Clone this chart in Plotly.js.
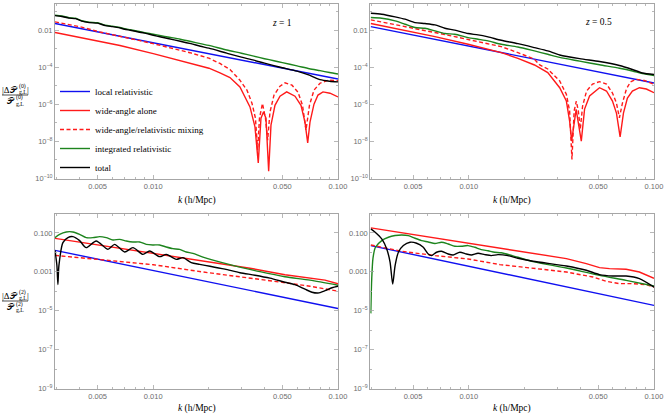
<!DOCTYPE html>
<html>
<head>
<meta charset="utf-8">
<script src="https://cdn.plot.ly/plotly-3.0.1.min.js"></script>
<style>
  body { margin: 0; background: #fff; }
  #chart { width: 664px; height: 417px; }
</style>
</head>
<body>
<div id="chart"></div>
<script>
// ---- data (k in h/Mpc, ratio |dP|/P) ----

// z = 1, monopole
var kTL_blue = [0.00294, 0.1];
var vTL_blue = [0.0230, 2.33e-5];

var kTL_wide = [0.00294, 0.005145, 0.006603, 0.01, 0.01503, 0.02002, 0.02297, 0.02602, 0.02946, 0.03339,
  0.03553, 0.03702, 0.03829, 0.0395, 0.04075, 0.04214, 0.04338, 0.04559, 0.04853, 0.05276,
  0.05851, 0.06305, 0.06626, 0.06855, 0.07053, 0.07413, 0.07793, 0.08294, 0.09052, 0.1];
var vTL_wide = [7.52e-3, 2.55e-3, 1.5e-3, 5.40e-4, 1.88e-4, 8.9e-5, 4.98e-5, 2.81e-5, 8.75e-6, 7.3e-7,
  6.08e-8, 6.97e-10, 1.78e-7, 3.89e-7, 1.78e-7, 2.5e-10, 7.6e-8, 8.9e-7, 2.75e-6, 4.68e-6,
  2.75e-6, 8.9e-7, 1.1e-7, 8.3e-9, 1.1e-7, 1.02e-6, 3.16e-6, 4.68e-6, 3.98e-6, 2.51e-6];

var kTL_mix = [0.00294, 0.00401, 0.005145, 0.006603, 0.008472, 0.01, 0.01231, 0.0158, 0.02, 0.02297,
  0.02602, 0.02946, 0.03216, 0.03422, 0.03574, 0.03673, 0.03758, 0.03901, 0.0405, 0.04162,
  0.04283, 0.04503, 0.04853, 0.05164, 0.05636, 0.06073, 0.06424, 0.06709, 0.07009, 0.07413,
  0.07989, 0.08829, 0.1];
var vTL_mix = [0.0281, 0.01545, 0.0080, 0.00446, 0.00272, 0.00187, 0.001138, 6.11e-4, 3.09e-4, 1.60e-4,
  7.59e-5, 2.01e-5, 5.81e-6, 1.16e-6, 1.79e-7, 3.4e-9, 1.79e-7, 1.11e-6, 1.79e-7, 1.17e-8,
  3.78e-7, 3.12e-6, 9.55e-6, 1.44e-5, 1.08e-5, 4.53e-6, 9.0e-7, 4.04e-8, 9.0e-7, 5.81e-6,
  1.38e-5, 2.01e-5, 1.89e-5];

var kTL = [0.00294, 0.0032, 0.0035, 0.0038, 0.0041, 0.0045, 0.005, 0.0055, 0.006, 0.0065,
  0.007, 0.0075, 0.008, 0.009, 0.01, 0.011, 0.012, 0.014, 0.016, 0.018,
  0.02, 0.025, 0.03, 0.035, 0.04, 0.045, 0.05, 0.06, 0.07, 0.08, 0.09, 0.1];
var vTL_integ = [0.0644, 0.0583, 0.0472, 0.0444, 0.0325, 0.0270, 0.0254, 0.0186, 0.0164, 0.0145,
  0.0120, 0.01064, 0.0094, 0.00733, 0.00608, 0.00505, 0.0043, 0.00327, 0.00246, 0.00187,
  0.00151, 8.55e-4, 5.74e-4, 3.96e-4, 2.90e-4, 2.26e-4, 1.77e-4, 1.19e-4, 8.38e-5, 6.55e-5, 5.22e-5, 4.35e-5];
var vTL_total = [0.0610, 0.0552, 0.0447, 0.0420, 0.0308, 0.0256, 0.0240, 0.0176, 0.0155, 0.0137,
  0.0113, 0.0100, 0.0088, 0.00689, 0.00537, 0.0043, 0.00356, 0.00255, 0.00187, 0.00137,
  0.00107, 5.74e-4, 3.50e-4, 2.41e-4, 1.66e-4, 1.22e-4, 9.48e-5, 6.15e-5, 3.74e-5, 2.14e-5, 1.77e-5, 1.63e-5];

// z = 0.5, monopole
var kTR_blue = [0.002958, 0.1];
var vTR_blue = [0.01567, 1.42e-5];

var kTR_wide = [0.002958, 0.004341, 0.006565, 0.009913, 0.01219, 0.01497, 0.01842, 0.02263, 0.02669, 0.03096,
  0.03364, 0.03504, 0.03592, 0.03798, 0.0405, 0.04219, 0.04489, 0.05079, 0.05539, 0.05967,
  0.0627, 0.06563, 0.06839, 0.07185, 0.07643, 0.08337, 0.09093, 0.1];
var vTR_wide = [0.0228, 0.01038, 0.00453, 0.00175, 0.00106, 6.18e-4, 3.05e-4, 1.33e-4, 5.13e-5, 7.89e-6,
  1.51e-6, 1.25e-7, 1.04e-8, 5.37e-7, 1.04e-8, 5.57e-7, 2.81e-6, 7.89e-6, 5.24e-6, 1.51e-6,
  3.39e-7, 1.77e-8, 3.39e-7, 2.19e-6, 5.24e-6, 7.89e-6, 6.71e-6, 4.24e-6];

var kTR_mix = [0.002958, 0.003535, 0.004341, 0.00534, 0.006565, 0.008061, 0.009913, 0.01219, 0.01497, 0.01842,
  0.02263, 0.02417, 0.02669, 0.03096, 0.03364, 0.03504, 0.03606, 0.03705, 0.03807, 0.03903,
  0.04001, 0.04116, 0.04325, 0.04659, 0.05079, 0.05539, 0.05967, 0.0627, 0.06506, 0.06754,
  0.07097, 0.07457, 0.08002, 0.08867, 0.1];
var vTR_mix = [0.0361, 0.0258, 0.01706, 0.01127, 0.00745, 0.00492, 0.00325, 0.00214, 0.0013, 6.18e-4,
  2.70e-4, 1.33e-4, 8.09e-5, 1.82e-5, 3.48e-6, 4.35e-7, 1.07e-9, 4.35e-7, 1.51e-6, 4.35e-7,
  4.6e-8, 8.1e-7, 5.24e-6, 1.25e-5, 1.67e-5, 1.25e-5, 4.08e-6, 1.17e-6, 1.89e-7, 1.17e-6,
  6.71e-6, 1.60e-5, 2.24e-5, 1.93e-5, 1.21e-5];

var kTR = [0.002958, 0.003389, 0.004001, 0.004529, 0.005125, 0.005799, 0.006565, 0.00743, 0.008409, 0.009913,
  0.01122, 0.0127, 0.01497, 0.01842, 0.02263, 0.02669, 0.03096, 0.03967, 0.05079, 0.06506,
  0.07643, 0.08652, 0.1];
var vTR_integ = [0.0482, 0.0444, 0.0318, 0.0210, 0.01387, 0.01276, 0.00916, 0.00658, 0.00605, 0.00400,
  0.00325, 0.00264, 0.00175, 0.00125, 7.60e-4, 5.02e-4, 3.39e-4, 2.14e-4, 1.36e-4, 8.83e-5,
  6.31e-5, 4.62e-5, 3.61e-5];
var vTR_total = [0.0826, 0.0729, 0.0524, 0.0392, 0.0258, 0.0228, 0.0193, 0.01276, 0.0100, 0.00658,
  0.00557, 0.00435, 0.00287, 0.00189, 0.00115, 7.60e-4, 4.62e-4, 2.92e-4, 2.06e-4, 1.25e-4,
  7.60e-5, 4.92e-5, 4.08e-5];

// z = 1, quadrupole
var kBL_blue = [0.00294, 0.1];
var vBL_blue = [0.0127, 1.31e-5];

var kBL_wide = [0.00294, 0.01, 0.01858, 0.03339, 0.05164, 0.07053, 0.08504, 0.1];
var vBL_wide = [0.0527, 0.00891, 0.00362, 0.00154, 7.13e-4, 4.71e-4, 3.72e-4, 2.45e-4];

var kBL_mix = [0.00294, 0.005145, 0.01, 0.01858, 0.03339, 0.05164, 0.07053, 0.08504, 0.1];
var vBL_mix = [0.00703, 0.00422, 0.00233, 9.82e-4, 4.99e-4, 2.76e-4, 1.82e-4, 1.36e-4, 1.01e-4];

var kBL_integ = [0.00294, 0.003113, 0.003381, 0.003674, 0.003995, 0.004337, 0.004716, 0.005127, 0.005566, 0.00605,
  0.006578, 0.007143, 0.007766, 0.008442, 0.009166, 0.00996, 0.01083, 0.01176, 0.01279, 0.0139,
  0.01509, 0.0164, 0.01858, 0.02602, 0.03782, 0.05164, 0.07053, 0.1];
var vBL_integ = [0.0573, 0.0847, 0.1125, 0.1125, 0.0847, 0.0573, 0.0573, 0.0644, 0.0573, 0.0436,
  0.0468, 0.0387, 0.0344, 0.0344, 0.0259, 0.0241, 0.0241, 0.0190, 0.01555, 0.01432,
  0.01052, 0.00891, 0.00568, 0.00233, 0.00102, 5.62e-4, 3.72e-4, 2.05e-4];

var kBL_total = [0.00294, 0.003011, 0.003048, 0.003086, 0.003244, 0.003453, 0.003674, 0.003995, 0.004337, 0.004913,
  0.005686, 0.00618, 0.007002, 0.007766, 0.008794, 0.009561, 0.01083, 0.01176, 0.01332, 0.01448,
  0.01606, 0.01783, 0.02028, 0.02444, 0.02946, 0.03553, 0.04283, 0.05164, 0.05851, 0.06626,
  0.0723, 0.07793, 0.08504, 0.09279, 0.1];
var vBL_total = [0.0127, 0.00207, 2.25e-4, 0.00207, 0.0317, 0.0573, 0.0644, 0.0401, 0.0175, 0.0387,
  0.01432, 0.0259, 0.01052, 0.0175, 0.00791, 0.01183, 0.00603, 0.00791, 0.00438, 0.00535,
  0.00296, 0.00242, 0.00195, 0.00137, 9.03e-4, 6.71e-4, 4.71e-4, 2.93e-4, 2.18e-4, 1.28e-4,
  8.95e-5, 8.13e-5, 1.07e-4, 1.52e-4, 1.82e-4];

// z = 0.5, quadrupole
var kBR_blue = [0.002958, 0.1];
var vBR_blue = [0.0224, 1.88e-5];

var kBR_wide = [0.002958, 0.01473, 0.02224, 0.03364, 0.04309, 0.05079, 0.05749, 0.07071, 0.08337, 0.1];
var vBR_wide = [0.1811, 0.0157, 0.00869, 0.0048, 0.00265, 0.00165, 0.00147, 0.00135, 9.8e-4, 4.63e-4];

var kBR_mix = [0.002958, 0.004341, 0.006565, 0.009913, 0.01473, 0.02224, 0.03364, 0.04676, 0.05518, 0.06506,
  0.07674, 0.09057, 0.1];
var vBR_mix = [0.0241, 0.0114, 0.00685, 0.00457, 0.00236, 0.00157, 9.8e-4, 5.41e-4, 3.25e-4, 2.47e-4,
  2.47e-4, 2.2e-4, 1.65e-4];

var kBR_integ = [0.002958, 0.00299, 0.003039, 0.003134, 0.003389, 0.003682, 0.004001, 0.004341, 0.004718, 0.005125,
  0.005562, 0.006042, 0.006565, 0.007125, 0.007741, 0.008409, 0.009125, 0.009913, 0.01077, 0.01168,
  0.0127, 0.0138, 0.01497, 0.01842, 0.02224, 0.03364, 0.05079, 0.07071, 0.1];
var vBR_integ = [7.3e-6, 3.66e-4, 0.00498, 0.0183, 0.0405, 0.06, 0.0734, 0.0788, 0.0734, 0.0533,
  0.0405, 0.0344, 0.0284, 0.0332, 0.0271, 0.0207, 0.0207, 0.0224, 0.0183, 0.01396,
  0.01211, 0.01014, 0.00955, 0.0056, 0.00335, 0.00157, 6.62e-4, 3.66e-4, 1.86e-4];

var kBR_total = [0.002958, 0.003123, 0.003389, 0.003606, 0.00376, 0.003883, 0.004001, 0.004167, 0.004434, 0.004818,
  0.005231, 0.005681, 0.006042, 0.006293, 0.006696, 0.007125, 0.007741, 0.008231, 0.008946, 0.009707,
  0.01033, 0.01122, 0.01219, 0.01323, 0.01437, 0.01627, 0.01842, 0.02224, 0.03364, 0.04309,
  0.05079, 0.05989, 0.07071, 0.08337, 0.1];
var vBR_total = [0.1607, 0.1087, 0.0491, 0.015, 0.00309, 2.36e-4, 0.00209, 0.01014, 0.0224, 0.0332,
  0.0294, 0.0183, 0.00828, 0.00685, 0.01014, 0.0114, 0.00828, 0.00736, 0.01014, 0.00828,
  0.00736, 0.00899, 0.00771, 0.00685, 0.00771, 0.00685, 0.00498, 0.00348, 0.00199, 0.0012,
  7.19e-4, 6.09e-4, 6.09e-4, 4.48e-4, 1.65e-4];

var names = ['local relativistic', 'wide-angle alone', 'wide-angle/relativistic mixing',
  'integrated relativistic', 'total'];

var xTickVals = [0.005, 0.01, 0.05, 0.1];
var xTickText = ['0.005', '0.010', '0.050', '0.100'];
var xMinor = [0.003, 0.004, 0.006, 0.007, 0.008, 0.009, 0.02, 0.03, 0.04, 0.06, 0.07, 0.08, 0.09];
var yTopVals = [1e-2, 1e-4, 1e-6, 1e-8, 1e-10];
var yTopText = ['0.01', '10<sup>\u22124</sup>', '10<sup>\u22126</sup>', '10<sup>\u22128</sup>', '10<sup>\u221210</sup>'];
var yTopMinor = [1e-1, 1e-3, 1e-5, 1e-7, 1e-9];
var yBotVals = [1e-1, 1e-3, 1e-5, 1e-7, 1e-9];
var yBotText = ['0.100', '0.001', '10<sup>\u22125</sup>', '10<sup>\u22127</sup>', '10<sup>\u22129</sup>'];
var yBotMinor = [1, 1e-2, 1e-4, 1e-6, 1e-8];

// ---- styling ----
var BLUE = '#1010f0', RED = '#ff1a1a', GREEN = '#1d841d', BLACK = '#000000';
var styles = [
  {color: BLUE, dash: 'solid', shape: 'linear'},
  {color: RED, dash: 'solid', shape: 'linear'},
  {color: RED, dash: '4px,2.5px', shape: 'linear'},
  {color: GREEN, dash: 'solid', shape: 'spline'},
  {color: BLACK, dash: 'solid', shape: 'spline'}
];

function curve(k, v, i, xa, ya, legend) {
  return {
    x: k, y: v, type: 'scatter', mode: 'lines',
    name: names[i], showlegend: legend, legendrank: i,
    xaxis: xa, yaxis: ya,
    line: {color: styles[i].color, dash: styles[i].dash, width: 1.4,
      shape: styles[i].shape, smoothing: 0.7},
    hoverinfo: 'skip'
  };
}

var data = [];
function panel(sets, xa, ya, legend) {
  for (var i = 0; i < sets.length; i++) {
    data.push(curve(sets[i][0], sets[i][1], i, xa, ya, legend));
  }
}
panel([[kTL_blue, vTL_blue], [kTL_wide, vTL_wide], [kTL_mix, vTL_mix], [kTL, vTL_integ], [kTL, vTL_total]], 'x', 'y', true);
panel([[kTR_blue, vTR_blue], [kTR_wide, vTR_wide], [kTR_mix, vTR_mix], [kTR, vTR_integ], [kTR, vTR_total]], 'x2', 'y2', false);
panel([[kBL_blue, vBL_blue], [kBL_wide, vBL_wide], [kBL_mix, vBL_mix], [kBL_integ, vBL_integ], [kBL_total, vBL_total]], 'x3', 'y3', false);
panel([[kBR_blue, vBR_blue], [kBR_wide, vBR_wide], [kBR_mix, vBR_mix], [kBR_integ, vBR_integ], [kBR_total, vBR_total]], 'x4', 'y4', false);

var FRAME = '#a6a6a6';
var tickFont = {family: 'Liberation Sans, Arial, sans-serif', size: 7.5, color: '#6e6e6e'};

function xaxis(dom, anchor) {
  return {
    type: 'log', domain: dom, anchor: anchor, range: [-2.5317, -1],
    tickmode: 'array', tickvals: xTickVals, ticktext: xTickText,
    ticks: 'inside', ticklen: 4, tickcolor: FRAME, tickwidth: 0.8,
    minor: {tickmode: 'array', tickvals: xMinor, ticks: 'inside', ticklen: 2, tickcolor: FRAME},
    showline: true, linecolor: FRAME, linewidth: 1, mirror: 'allticks',
    showgrid: false, zeroline: false, tickfont: tickFont, automargin: false
  };
}
function yaxis(dom, anchor, range, vals, text, minor) {
  return {
    type: 'log', domain: dom, anchor: anchor, range: range,
    tickmode: 'array', tickvals: vals, ticktext: text,
    ticks: 'inside', ticklen: 4, tickcolor: FRAME, tickwidth: 0.8,
    minor: {tickmode: 'array', tickvals: minor, ticks: 'inside', ticklen: 2, tickcolor: FRAME},
    showline: true, linecolor: FRAME, linewidth: 1, mirror: 'allticks',
    showgrid: false, zeroline: false, tickfont: tickFont, automargin: false
  };
}

var W = 664, H = 417;
var xL = [55 / W, 338 / W], xR = [370.3 / W, 654 / W];
var yT = [1 - 178.5 / H, 1 - 3.5 / H], yB = [1 - 388.5 / H, 1 - 213.5 / H];

var serif = 'Liberation Serif, Times New Roman, serif';
function note(text, x, y, size, xanchor, yanchor) {
  return {text: text, x: x / W, y: 1 - y / H, xref: 'paper', yref: 'paper',
    showarrow: false, xanchor: xanchor || 'center', yanchor: yanchor || 'middle',
    borderpad: 0, font: {family: serif, size: size, color: '#000'}};
}

// stacked fraction |ΔP^(l)_g,L| / P^(l)_g,L, bar at pixel row yBar
var SCRIPT_P = '\uD835\uDCAB';
function yTitle(order, yBar) {
  var sup = '(' + order + ')';
  return [
    note('|\u0394' + SCRIPT_P, 1, yBar - 5.5, 9, 'left'),
    note(sup, 17.5, yBar - 8.8, 5.8, 'left'),
    note('g,L', 17.5, yBar - 2.6, 5.8, 'left'),
    note('|', 25.5, yBar - 5.5, 9, 'left'),
    note(SCRIPT_P, 5.5, yBar + 6, 9, 'left'),
    note(sup, 15, yBar + 3, 5.8, 'left'),
    note('g,L', 15, yBar + 9.2, 5.8, 'left')
  ];
}

var annotations = [
  note('<i>z</i> = 1', 282, 23, 9.5),
  note('<i>z</i> = 0.5', 598, 22, 9.5),
  note('<i>k</i> (h/Mpc)', 196.5, 200, 9.5),
  note('<i>k</i> (h/Mpc)', 512, 200, 9.5),
  note('<i>k</i> (h/Mpc)', 196.5, 408, 9.5),
  note('<i>k</i> (h/Mpc)', 512, 408, 9.5)
].concat(yTitle(0, 95), yTitle(2, 301));

var layout = {
  width: W, height: H,
  margin: {l: 0, r: 0, t: 0, b: 0},
  paper_bgcolor: '#fff', plot_bgcolor: '#fff',
  xaxis: xaxis(xL, 'y'),
  yaxis: yaxis(yT, 'x', [-10, -0.56], yTopVals, yTopText, yTopMinor),
  xaxis2: xaxis(xR, 'y2'),
  yaxis2: yaxis(yT, 'x2', [-10, -0.56], yTopVals, yTopText, yTopMinor),
  xaxis3: xaxis(xL, 'y3'),
  yaxis3: yaxis(yB, 'x3', [-9, 0], yBotVals, yBotText, yBotMinor),
  xaxis4: xaxis(xR, 'y4'),
  yaxis4: yaxis(yB, 'x4', [-9, 0], yBotVals, yBotText, yBotMinor),
  showlegend: true,
  legend: {
    x: 55 / W, xanchor: 'left', y: 1 - 77 / H, yanchor: 'top',
    bgcolor: 'rgba(0,0,0,0)', borderwidth: 0, traceorder: 'normal',
    font: {family: serif, size: 9, color: '#000'}, itemwidth: 30
  },
  annotations: annotations,
  shapes: [
    {type: 'line', xref: 'paper', yref: 'paper', x0: 2 / W, x1: 28 / W, y0: 1 - 95 / H, y1: 1 - 95 / H,
      line: {color: '#000', width: 0.7}},
    {type: 'line', xref: 'paper', yref: 'paper', x0: 2 / W, x1: 28 / W, y0: 1 - 301 / H, y1: 1 - 301 / H,
      line: {color: '#000', width: 0.7}}
  ]
};

Plotly.newPlot('chart', data, layout, {staticPlot: true, displayModeBar: false});
</script>
</body>
</html>
